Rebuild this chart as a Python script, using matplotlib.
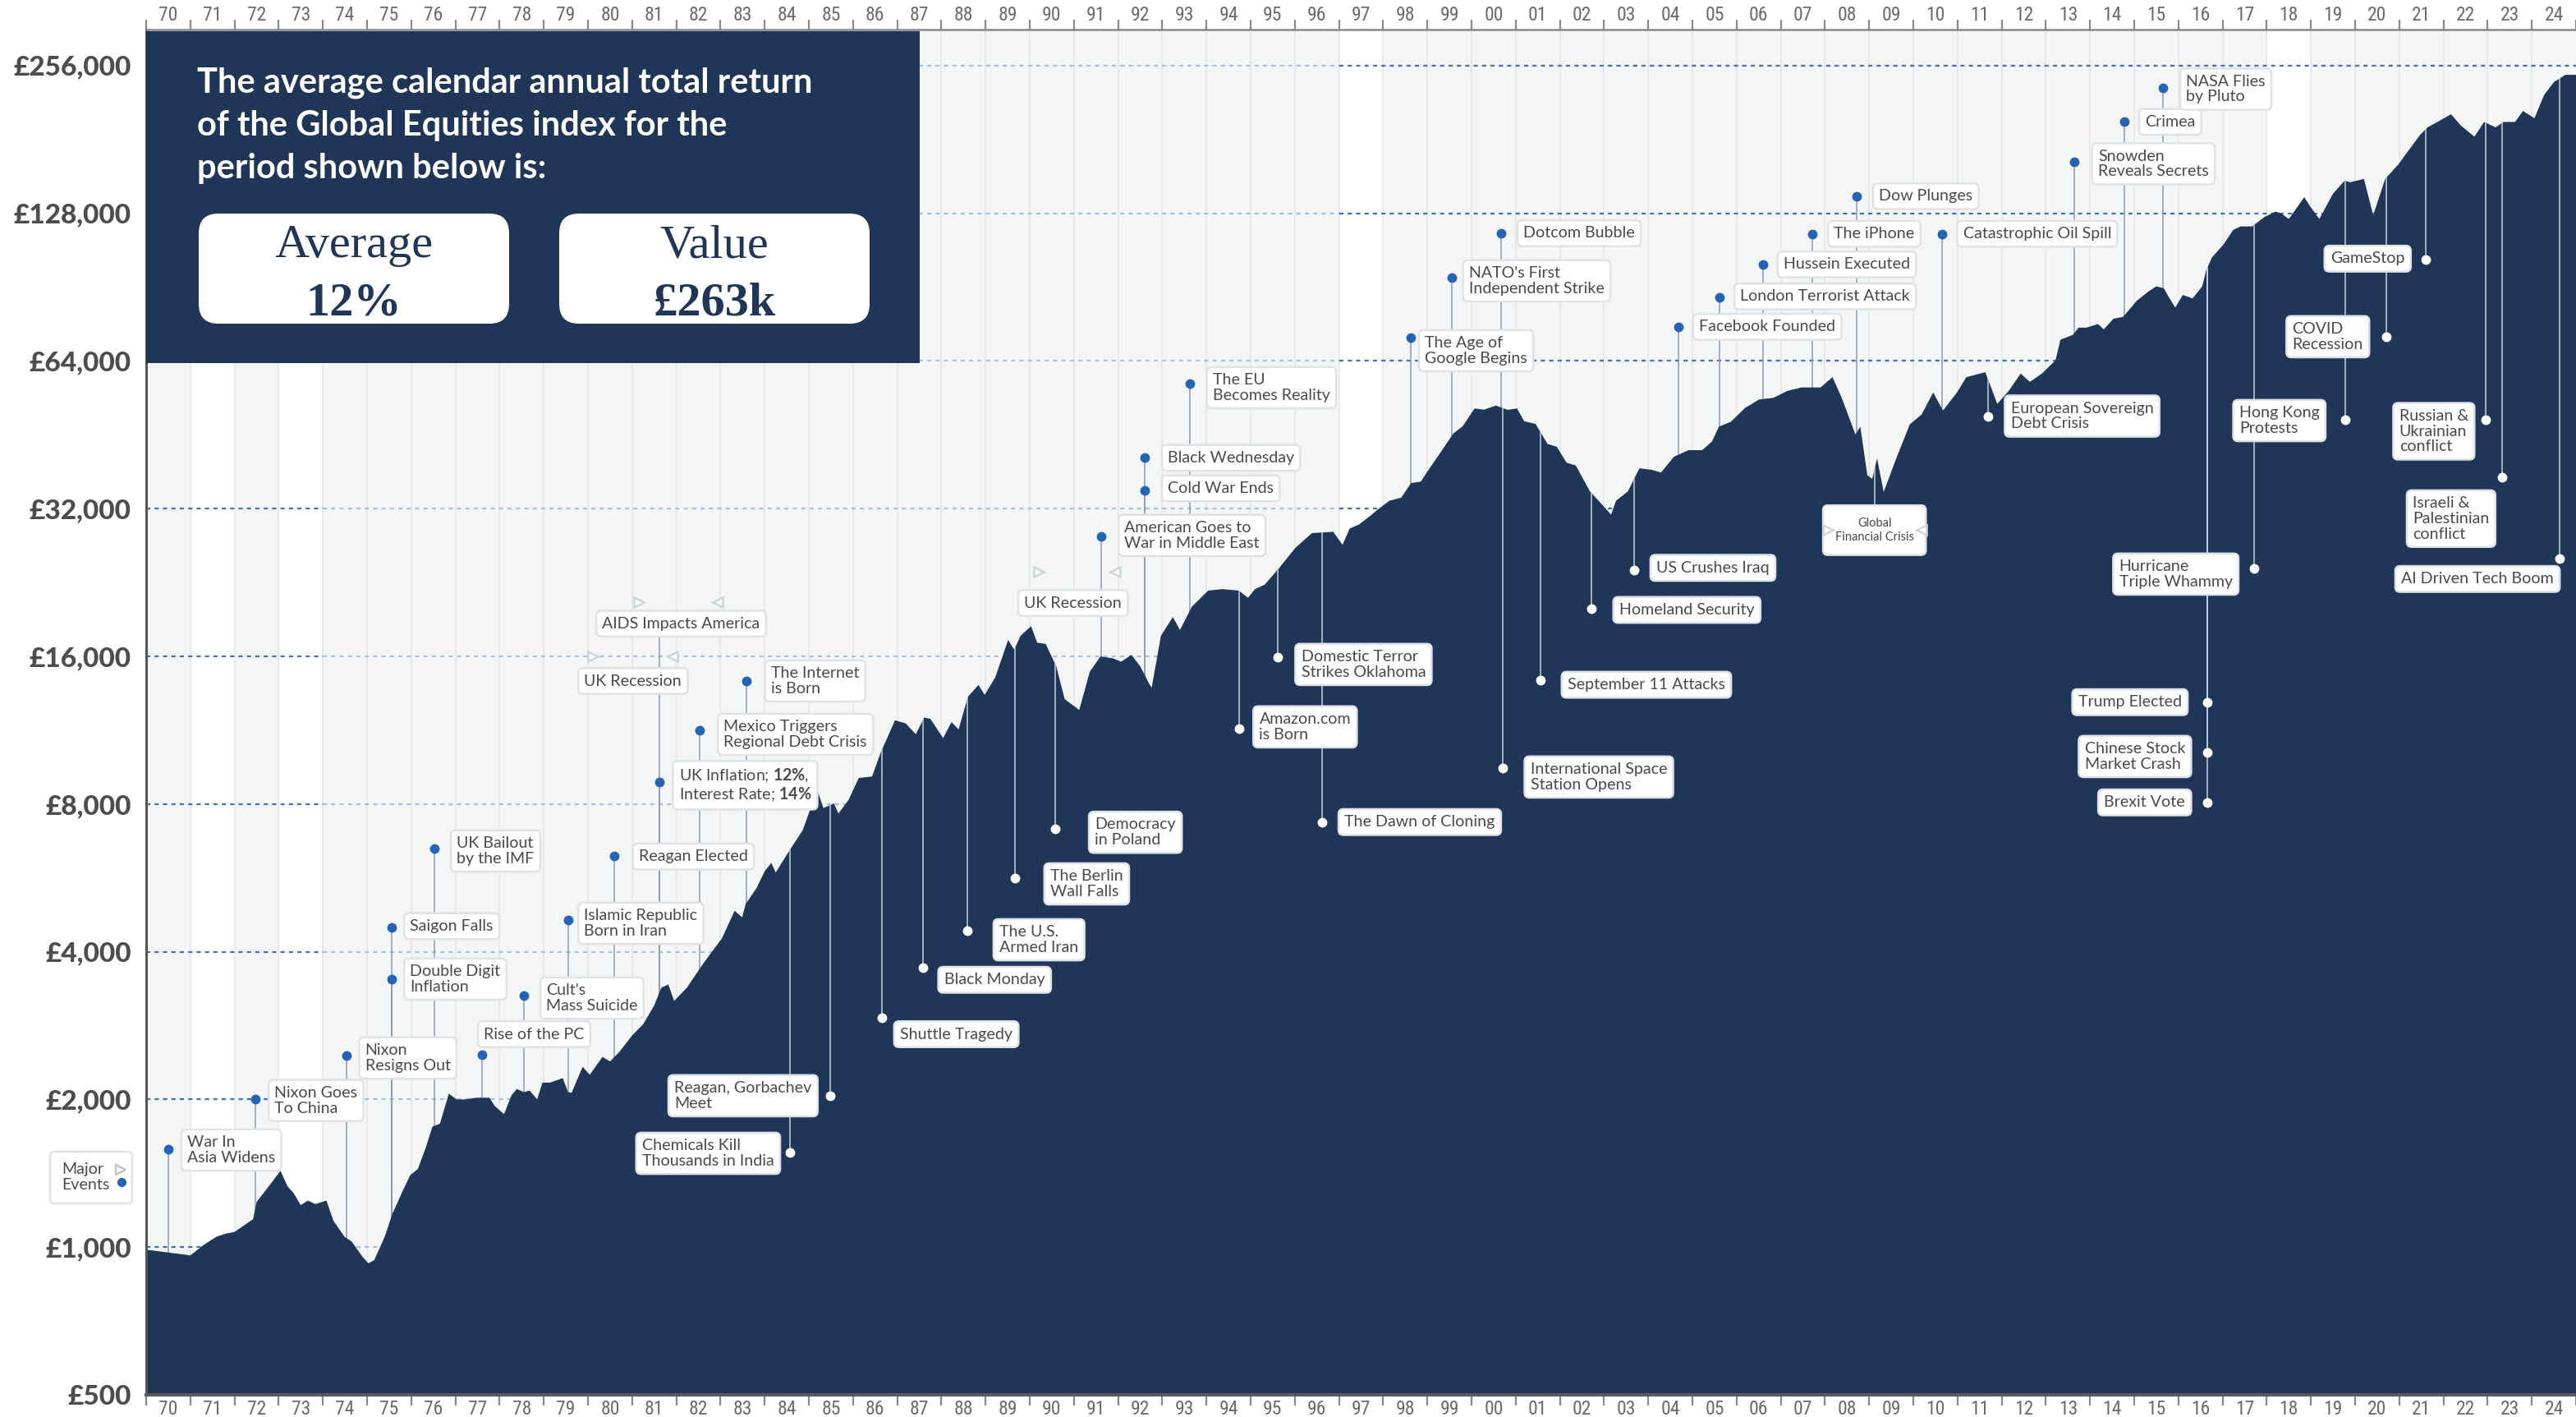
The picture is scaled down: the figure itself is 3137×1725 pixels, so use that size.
import numpy as np
import matplotlib
matplotlib.use('Agg')
import matplotlib.pyplot as plt
from matplotlib import font_manager as fm
from matplotlib.patches import FancyBboxPatch, Rectangle
from matplotlib.transforms import Affine2D
from matplotlib.ticker import NullLocator

# ---------------- data ----------------
years = [1970.00, 1971.00, 1971.30, 1971.59, 1971.80, 1972.00, 1972.42, 1972.50, 1972.83, 1973.04,
         1973.20, 1973.33, 1973.50, 1973.66, 1973.83, 1974.08, 1974.24, 1974.49, 1974.65, 1974.90,
         1975.03, 1975.16, 1975.40, 1975.57, 1975.82, 1975.98, 1976.15, 1976.32, 1976.48, 1976.65,
         1976.85, 1977.03, 1977.23, 1977.47, 1977.77, 1977.89, 1978.10, 1978.27, 1978.39, 1978.55,
         1978.68, 1978.85, 1978.97, 1979.14, 1979.43, 1979.55, 1979.63, 1979.88, 1980.04, 1980.33,
         1980.50, 1980.71, 1981.00, 1981.25, 1981.50, 1981.66, 1981.82, 1981.95, 1982.24, 1982.57,
         1982.82, 1983.03, 1983.32, 1983.49, 1983.57, 1983.82, 1984.00, 1984.15, 1984.25, 1984.57,
         1984.86, 1985.19, 1985.33, 1985.57, 1985.67, 1985.90, 1986.13, 1986.43, 1986.62, 1986.95,
         1987.19, 1987.42, 1987.61, 1987.75, 1988.04, 1988.23, 1988.39, 1988.60, 1988.84, 1988.98,
         1989.22, 1989.51, 1989.65, 1989.79, 1990.03, 1990.17, 1990.36, 1990.60, 1990.79, 1991.12,
         1991.36, 1991.60, 1991.88, 1992.07, 1992.30, 1992.50, 1992.68, 1992.76, 1992.97, 1993.24,
         1993.40, 1993.67, 1994.04, 1994.36, 1994.73, 1994.94, 1995.10, 1995.32, 1995.64, 1996.01,
         1996.39, 1996.87, 1997.08, 1997.24, 1997.46, 1997.72, 1997.88, 1998.14, 1998.41, 1998.63,
         1998.85, 1999.05, 1999.32, 1999.59, 1999.80, 2000.07, 2000.28, 2000.55, 2000.82, 2001.03,
         2001.19, 2001.45, 2001.72, 2001.93, 2002.15, 2002.36, 2002.68, 2002.95, 2003.16, 2003.27,
         2003.54, 2003.80, 2004.07, 2004.29, 2004.58, 2004.91, 2005.22, 2005.44, 2005.60, 2005.87,
         2006.19, 2006.51, 2006.83, 2007.15, 2007.47, 2007.90, 2008.17, 2008.38, 2008.69, 2008.80,
         2008.96, 2009.07, 2009.18, 2009.33, 2009.60, 2009.92, 2010.19, 2010.45, 2010.67, 2010.99,
         2011.20, 2011.63, 2011.90, 2012.16, 2012.43, 2012.64, 2012.91, 2013.22, 2013.33, 2013.61,
         2013.74, 2013.92, 2014.18, 2014.31, 2014.53, 2014.75, 2015.06, 2015.32, 2015.50, 2015.67,
         2015.80, 2015.93, 2016.10, 2016.32, 2016.54, 2016.63, 2016.76, 2017.02, 2017.24, 2017.41,
         2017.67, 2017.94, 2018.20, 2018.33, 2018.50, 2018.85, 2018.98, 2019.19, 2019.50, 2019.76,
         2019.89, 2020.02, 2020.20, 2020.41, 2020.68, 2020.98, 2021.16, 2021.47, 2021.64, 2021.95,
         2022.17, 2022.39, 2022.70, 2022.92, 2023.18, 2023.36, 2023.62, 2023.80, 2024.06, 2024.28,
         2024.50, 2024.76, 2025.00]
values = [988, 962, 1010, 1050, 1065, 1074, 1140, 1236, 1350, 1431,
          1330, 1291, 1218, 1244, 1224, 1244, 1131, 1050, 1027, 955,
          927, 940, 1050, 1167, 1310, 1403, 1443, 1587, 1760, 1785,
          2054, 2000, 2000, 2016, 2016, 1939, 1866, 2039, 2101, 2069,
          2085, 2000, 2164, 2164, 2210, 2069, 2063, 2331, 2245, 2442,
          2390, 2499, 2700, 2846, 3109, 3378, 3430, 3175, 3378, 3740,
          4015, 4255, 4848, 4700, 5003, 5400, 5834, 6070, 5800, 6450,
          7070, 8540, 7850, 8020, 7650, 8160, 9040, 9100, 10150, 11850,
          11680, 11100, 12000, 11930, 10900, 11750, 11350, 13230, 13990, 13350,
          14500, 17270, 16500, 17610, 18430, 17050, 16960, 15270, 13090, 12440,
          14880, 15990, 15850, 15600, 16110, 15270, 14200, 13800, 17620, 19240,
          18100, 20200, 21780, 21930, 21780, 21060, 21930, 22400, 24180, 26600,
          28530, 28700, 27000, 29130, 29730, 31000, 31870, 33200, 33690, 36070,
          36320, 38660, 41930, 45540, 47100, 51200, 50900, 51900, 50860, 51200,
          48230, 47600, 43350, 42770, 39700, 39180, 34690, 32650, 31100, 33200,
          34690, 38660, 38400, 37900, 40800, 42100, 42100, 43800, 47000, 48100,
          51300, 53400, 53800, 55600, 56500, 56500, 59300, 53800, 45300, 47000,
          37400, 36800, 40500, 34600, 40200, 47500, 49800, 55200, 50700, 55200,
          59300, 60700, 52300, 55600, 60300, 58000, 60300, 64200, 70700, 72300,
          74800, 74800, 76100, 74200, 78000, 78700, 84900, 88600, 90800, 90000,
          85800, 82200, 87200, 85800, 90800, 98000, 104000, 110500, 118300, 120300,
          120300, 125600, 129000, 127800, 124600, 138000, 132200, 124600, 140300, 149000,
          148000, 149000, 150300, 126800, 150300, 161000, 169400, 184800, 191500, 198400,
          203600, 193300, 183300, 196400, 191500, 196400, 196400, 206800, 199900, 223100,
          236800, 245000, 245000]

year_labels = ['70', '71', '72', '73', '74', '75', '76', '77', '78', '79',
               '80', '81', '82', '83', '84', '85', '86', '87', '88', '89',
               '90', '91', '92', '93', '94', '95', '96', '97', '98', '99',
               '00', '01', '02', '03', '04', '05', '06', '07', '08', '09',
               '10', '11', '12', '13', '14', '15', '16', '17', '18', '19',
               '20', '21', '22', '23', '24']
ytick_values = [500, 1000, 2000, 4000, 8000, 16000, 32000, 64000, 128000, 256000]
ytick_labels = ['£500', '£1,000', '£2,000', '£4,000', '£8,000', '£16,000',
                '£32,000', '£64,000', '£128,000', '£256,000']
white_years = [1971, 1973, 1997, 2018]

summary_text = ['The average calendar annual total return',
                'of the Global Equities index for the',
                'period shown below is:']
summary_average = '12%'
summary_value = '£263k'

# events above the curve (blue dots)
above_names = ['War In\nAsia Widens', 'Nixon Goes\nTo China', 'Nixon\nResigns Out',
               'Double Digit\nInflation', 'Saigon Falls', 'UK Bailout\nby the IMF',
               'Rise of the PC', "Cult's\nMass Suicide", 'Islamic Republic\nBorn in Iran',
               'Reagan Elected',
               'UK Inflation; $\\mathbf{12\\%}$,\nInterest Rate; $\\mathbf{14\\%}$',
               'Mexico Triggers\nRegional Debt Crisis', 'The Internet\nis Born',
               'American Goes to\nWar in Middle East', 'Cold War Ends', 'Black Wednesday',
               'The EU\nBecomes Reality', 'The Age of\nGoogle Begins',
               "NATO's First\nIndependent Strike", 'Dotcom Bubble', 'Facebook Founded',
               'London Terrorist Attack', 'Hussein Executed', 'The iPhone', 'Dow Plunges',
               'Catastrophic Oil Spill', 'Snowden\nReveals Secrets', 'Crimea',
               'NASA Flies\nby Pluto']
above_years = [1970.50, 1972.48, 1974.54, 1975.55, 1975.55, 1976.52, 1977.60, 1978.55, 1979.55,
               1980.59, 1981.61, 1982.53, 1983.59, 1991.62, 1992.60, 1992.60, 1993.62, 1998.62,
               1999.55, 2000.66, 2004.68, 2005.61, 2006.60, 2007.72, 2008.72, 2010.65, 2013.64,
               2014.77, 2015.65]
above_values = [1585, 2000, 2455, 3517, 4476, 6500, 2467, 3256, 4642,
                6270, 8870, 11290, 14250, 28070, 34880, 40590, 57440, 71300,
                94620, 116700, 75110, 86270, 100630, 116200, 138400, 116200, 162800,
                196500, 230200]

# events below the curve (white dots)
below_names = ['Reagan, Gorbachev\nMeet', 'Chemicals Kill\nThousands in India', 'Shuttle Tragedy',
               'Black Monday', 'The U.S.\nArmed Iran', 'The Berlin\nWall Falls', 'Democracy\nin Poland',
               'Amazon.com\nis Born', 'Domestic Terror\nStrikes Oklahoma', 'The Dawn of Cloning',
               'International Space\nStation Opens', 'September 11 Attacks', 'Homeland Security',
               'US Crushes Iraq', 'European Sovereign\nDebt Crisis', 'Trump Elected',
               'Chinese Stock\nMarket Crash', 'Brexit Vote', 'Hurricane\nTriple Whammy',
               'Hong Kong\nProtests', 'COVID\nRecession', 'GameStop',
               'Russian &\nUkrainian\nconflict', 'Israeli &\nPalestinian\nconflict',
               'AI Driven Tech Boom']
below_years = [1985.49, 1984.57, 1986.65, 1987.58, 1988.58, 1989.66, 1990.57, 1994.74, 1995.61,
               1996.61, 2000.71, 2001.56, 2002.71, 2003.68, 2011.70, 2016.65, 2016.65, 2016.65,
               2017.72, 2019.78, 2020.71, 2021.59, 2022.96, 2023.33, 2024.62]
below_values = [2034, 1557, 2934, 3717, 4422, 5646, 7120, 11390, 15940,
                7345, 9472, 14310, 19990, 24020, 49390, 12900, 10206, 8050,
                24170, 48570, 71800, 103000, 48570, 37080, 25330]

# periods (marked with triangles)
period_names = ['UK Recession', 'AIDS Impacts America', 'UK Recession', 'Global\nFinancial Crisis']
period_start = [1980.11, 1981.15, 1990.20, 2008.06]
period_end = [1981.92, 1982.94, 1991.93, 2010.19]

# ---------------- layout (label placement) ----------------
above_box_x = [1970.80, 1972.77, 1974.82, 1975.84, 1975.84, 1976.90, 1977.51, 1978.92, 1979.78,
               1981.02, 1981.92, 1982.94, 1984.01, 1992.01, 1992.99, 1992.99, 1994.01, 1998.81,
               1999.81, 2001.04, 2005.02, 2005.95, 2006.93, 2008.07, 2009.09, 2010.99, 2014.05,
               2015.11, 2016.04]
above_box_y = [1577, 1990, 2429, 3517, 4511, 6417, 2716, 3218, 4571,
               6250, 8735, 11094, 14250, 28220, 35190, 40590, 56440, 67140,
               93180, 116500, 75100, 86600, 100630, 116200, 138600, 116200, 161400,
               196500, 229100]
below_box_x = [1985.20, 1984.35, 1986.93, 1987.93, 1989.18, 1990.33, 1991.34, 1995.06, 1996.01,
               1996.99, 2001.20, 2002.04, 2003.21, 2004.05, 2012.07, 2016.21, 2016.29, 2016.29,
               2017.36, 2019.33, 2020.32, 2021.26, 2022.70, 2021.17, 2020.91]
below_box_y = [2035, 1553, 2716, 3506, 4231, 5499, 7006, 11490, 15400,
               7350, 9080, 14000, 19890, 24230, 49400, 12900, 9998, 8060,
               23530, 48370, 71700, 103400, 46000, 30530, 23000]
below_box_side = ['right', 'right', 'left', 'left', 'left', 'left', 'left', 'left', 'left',
                  'left', 'left', 'left', 'left', 'left', 'left', 'right', 'right', 'right',
                  'right', 'right', 'right', 'right', 'right', 'left', 'left']
period_box_x = [1979.78, 1980.19, 1989.74, 2009.12]
period_box_y = [14250, 18650, 20550, 28920]
period_tri_y = [16000, 20600, 23800, 28920]

# ---------------- style ----------------
avail = {f.name for f in fm.fontManager.ttflist}
def pick(*names):
    for n in names:
        if n in avail:
            return n
    return 'DejaVu Sans'
SANS = pick('Lato', 'Open Sans', 'Roboto', 'DejaVu Sans')
NARROW = pick('Liberation Sans Narrow', 'Roboto Condensed', 'DejaVu Sans Condensed', SANS)
SERIF = pick('Liberation Serif', 'DejaVu Serif')
plt.rcParams['mathtext.fontset'] = 'custom'
plt.rcParams['mathtext.rm'] = SANS
plt.rcParams['mathtext.bf'] = SANS + ':bold'

NAVY = '#1f3658'
STRIPE = '#f4f6f6'
VLINE = '#e3e6e9'
DARKDASH = '#3d72c2'
LIGHTDASH = '#a6c0e4'
BLUE = '#2463b6'
TXT = '#4a4a4a'
EDGE = '#dfe2e6'

W, H, DPI = 3137, 1725, 100
fig = plt.figure(figsize=(W / DPI, H / DPI), dpi=DPI)
fig.patch.set_facecolor('white')
ax = fig.add_axes([178 / W, 1 - 1698 / H, 1 - 178 / W, (1698 - 36) / H])
px = Affine2D().scale(1 / DPI, -1 / DPI).translate(0, H / DPI) + fig.dpi_scale_trans

ax.set_yscale('log', base=2)
ax.set_xlim(1970, 2025)
ax.set_ylim(500, 303000)

# background stripes
for yr in range(1970, 2025):
    if yr not in white_years:
        ax.axvspan(yr, yr + 1, color=STRIPE, lw=0, zorder=0)
ax.vlines(np.arange(1971, 2025), 100, 1e6, color=VLINE, lw=1.1, zorder=0.5)

# dashed level lines
for v in ytick_values[1:]:
    for a, b, c in [(1970, 1974, DARKDASH), (1974, 1997, LIGHTDASH), (1997, 2025, DARKDASH)]:
        ax.plot([a, b], [v, v], color=c, lw=1.6, ls=(0, (2.3, 2.3)), zorder=1)

# connectors for events above curve (hidden by area below curve)
for x, v in zip(above_years, above_values):
    ax.plot([x, x], [v, 100], color='#8d9ab1', lw=1.1, zorder=1.6)
# AIDS connector
ax.plot([1981.61, 1981.61], [period_box_y[1], 100], color='#8d9ab1', lw=1.1, zorder=1.6)

# area
poly = ax.fill_between(years, values, 100, color=NAVY, lw=0, zorder=2)
clip = poly.get_paths()[0]

# connectors for events below curve (clipped to area)
for x, v in zip(below_years, below_values):
    ln, = ax.plot([x, x], [v, 1e6], color='#c9ced8', lw=1.1, zorder=3)
    ln.set_clip_path(clip, ax.transData)
ln, = ax.plot([period_box_x[3], period_box_x[3]], [period_box_y[3], 1e6], color='#c9ced8', lw=1.1, zorder=3)
ln.set_clip_path(clip, ax.transData)

FS = 14.1
PAD = 0.37

def label(x, y, text, side='left', fs=FS, pad=PAD):
    off = pad * fs
    ax.annotate(text, xy=(x, y), xytext=(off if side == 'left' else -off, 0),
                textcoords='offset points', ha=side, va='center', fontsize=fs,
                multialignment='left',
                family=SANS, color=TXT, linespacing=1.12,
                bbox=dict(boxstyle=f'round,pad={pad},rounding_size=0.3', fc='white',
                          ec=EDGE, lw=1.8),
                zorder=4, annotation_clip=False)

for t, x, y in zip(above_names, above_box_x, above_box_y):
    label(x, y, t, 'left')
for t, x, y, s in zip(below_names, below_box_x, below_box_y, below_box_side):
    label(x, y, t, s)

# period boxes
for i in range(3):
    label(period_box_x[i], period_box_y[i], period_names[i], 'left')
ax.text(period_box_x[3], period_box_y[3], period_names[3], ha='center', va='center',
        fontsize=10.5, family=SANS, color=TXT, linespacing=1.3, zorder=4,
        bbox=dict(boxstyle='round,pad=1.0,rounding_size=0.4', fc='white', ec=EDGE, lw=1.8))
for s, e, ty in zip(period_start, period_end, period_tri_y):
    ax.plot([s], [ty], marker='>', ms=9, mfc='white', mec='#cfd4da', mew=1.8, zorder=5, ls='none')
    ax.plot([e], [ty], marker='<', ms=9, mfc='white', mec='#cfd4da', mew=1.8, zorder=5, ls='none')

# dots
ax.plot(above_years, above_values, 'o', ms=7.5, color=BLUE, zorder=5, ls='none')
ax.plot(below_years, below_values, 'o', ms=7.5, color='white', zorder=5, ls='none')

# axes styling
ax.spines['right'].set_visible(False)
ax.spines['left'].set_color('#555555')
ax.spines['left'].set_linewidth(2.2)
ax.spines['bottom'].set_color('#5a5a5a')
ax.spines['bottom'].set_linewidth(3)
ax.spines['top'].set_color('#8a8a8a')
ax.spines['top'].set_linewidth(1.8)
for sp in ax.spines.values():
    sp.set_zorder(6)

ax.set_yticks(ytick_values, labels=ytick_labels)
ax.yaxis.set_minor_locator(NullLocator())
ax.tick_params(axis='y', length=0, pad=13, labelsize=24, labelcolor='#4d4d4d')
for lab in ax.get_yticklabels():
    lab.set_fontfamily(SANS)
    lab.set_fontweight('black')

ax.set_xticks(np.arange(1970, 2026), labels=[])
ax.set_xticks(np.arange(1970, 2025) + 0.5, labels=year_labels, minor=True)
ax.tick_params(axis='x', which='major', length=9, width=1.6, color='#8a8a8a',
               top=True, bottom=True, direction='out')
ax.tick_params(axis='x', which='minor', length=0, top=True, bottom=True,
               labeltop=True, labelbottom=True, labelsize=17, labelcolor='#6b6b6b', pad=4)
for lab in ax.get_xticklabels(minor=True):
    lab.set_fontfamily(NARROW)

# summary box
fig.add_artist(Rectangle((178, 38), 942, 404, transform=px, fc=NAVY, ec='none', zorder=1))
for i, line in enumerate(summary_text):
    fig.text(240, 113 + 52 * i, line, transform=px, ha='left', va='baseline', color='white',
             fontsize=30, fontweight='bold', family=SANS, zorder=3)
for bx, t1, t2 in [(242, 'Average', summary_average), (681, 'Value', summary_value)]:
    fig.add_artist(FancyBboxPatch((bx, 260), 378, 134, transform=px,
                                  boxstyle='round,pad=0,rounding_size=24', fc='white', ec='none', zorder=2))
    fig.text(bx + 189, 313, t1, transform=px, ha='center', va='baseline', color=NAVY,
             fontsize=42, family=SERIF, zorder=3)
    fig.text(bx + 189, 384, t2, transform=px, ha='center', va='baseline', color=NAVY,
             fontsize=42, fontweight='bold', family=SERIF, zorder=3)

# Major events legend
fig.add_artist(FancyBboxPatch((61, 1402), 100, 63, transform=px,
                              boxstyle='round,pad=0,rounding_size=5', fc='white', ec=EDGE, lw=1.8, zorder=2))
fig.text(75, 1433, 'Major\nEvents', transform=px, ha='left', va='center', fontsize=FS,
         family=SANS, color=TXT, linespacing=1.12, zorder=3)
fig.add_artist(plt.Line2D([147], [1424], transform=px, marker='>', ms=8, mfc='white',
                          mec='#b9bec6', mew=1.5, ls='none', zorder=3))
fig.add_artist(plt.Line2D([148], [1439], transform=px, marker='o', ms=7, color=BLUE,
                          ls='none', zorder=3))

fig.savefig('out.png', dpi=DPI, facecolor='white')
